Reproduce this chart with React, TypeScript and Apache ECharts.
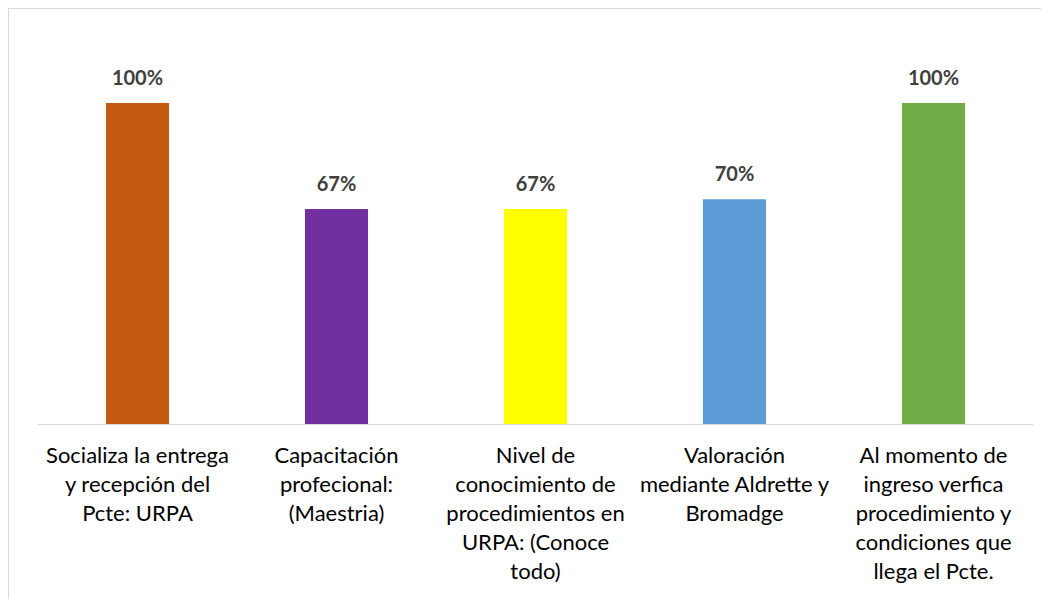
import React, { useEffect, useRef } from "react";
import * as echarts from "echarts";

const categories = [
  "Socializa la entrega\ny recepción del\nPcte: URPA",
  "Capacitación\nprofecional:\n(Maestria)",
  "Nivel de\nconocimiento de\nprocedimientos en\nURPA: (Conoce\ntodo)",
  "Valoración\nmediante Aldrette y\nBromadge",
  "Al momento de\ningreso verfica\nprocedimiento y\ncondiciones que\nllega el Pcte.",
];
const values = [1.0, 0.67, 0.67, 0.7, 1.0];
const colors = ["#C55A11", "#7030A0", "#FFFF00", "#5B9BD5", "#70AD47"];

export default function App() {
  const ref = useRef<HTMLDivElement>(null);
  useEffect(() => {
    if (!ref.current) return;
    const chart = echarts.init(ref.current, undefined, { renderer: "svg" });
    chart.setOption({
      animation: false,
      grid: { left: 29, right: 16, top: 94, bottom: 175, containLabel: false },
      xAxis: {
        type: "category",
        data: categories,
        axisLine: { show: true, lineStyle: { color: "#d9d9d9", width: 1 } },
        axisTick: { show: false },
        axisLabel: {
          interval: 0,
          margin: 16,
          color: "#000",
          fontFamily: "Lato",
          fontSize: 22,
          lineHeight: 29,
          align: "center",
        },
      },
      yAxis: { type: "value", min: 0, max: 1, show: false, splitLine: { show: false } },
      series: [
        {
          type: "bar",
          barWidth: "31.7%",
          data: values.map((v, i) => ({ value: v, itemStyle: { color: colors[i] } })),
          label: {
            show: true,
            position: "top",
            distance: 16,
            fontFamily: "Lato",
            fontWeight: "bold",
            fontSize: 20,
            color: "#404040",
            formatter: (p: any) => Math.round(p.value * 100) + "%",
          },
        },
      ],
    });
    return () => chart.dispose();
  }, []);
  return (
    <div
      ref={ref}
      style={{
        width: 1040,
        height: 590,
        borderTop: "1px solid #d9d9d9",
        borderLeft: "1px solid #d9d9d9",
        background: "#fff",
      }}
    />
  );
}
